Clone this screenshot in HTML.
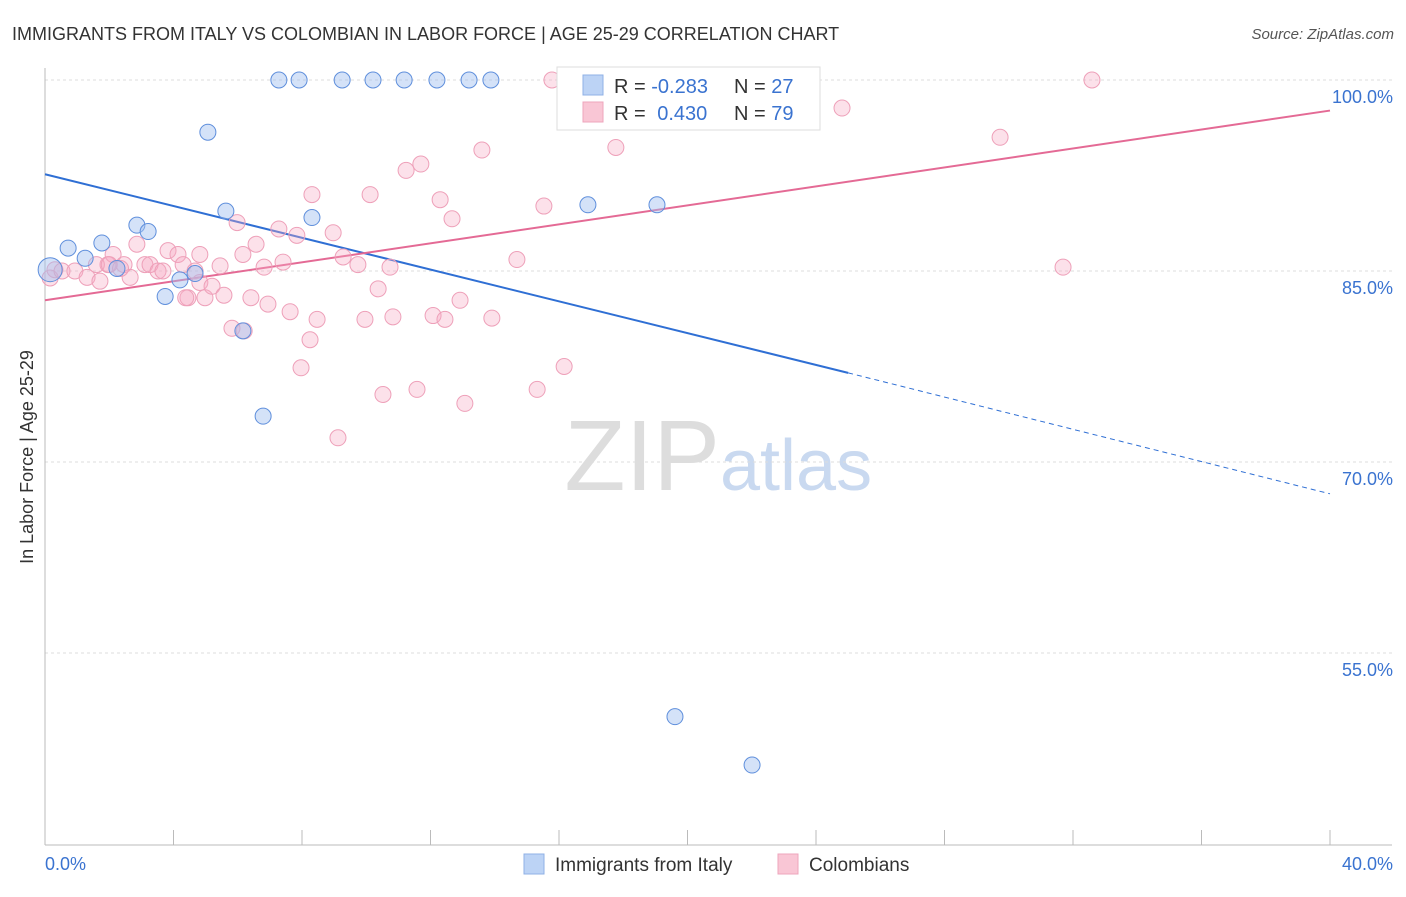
<!DOCTYPE html>
<html><head><meta charset="utf-8">
<style>
body{margin:0;background:#fff;font-family:"Liberation Sans",sans-serif;}
svg text{font-family:"Liberation Sans",sans-serif;}
</style></head>
<body>
<svg id="chart" width="1406" height="892" xmlns="http://www.w3.org/2000/svg">
<text x="12" y="40" font-size="18" fill="#333">IMMIGRANTS FROM ITALY VS COLOMBIAN IN LABOR FORCE | AGE 25-29 CORRELATION CHART</text>
<text x="1394" y="39" font-size="15" fill="#555" text-anchor="end" font-style="italic">Source: ZipAtlas.com</text>
<text x="720" y="490" font-size="100" fill="#ddd" text-anchor="end" font-family="Liberation Serif">ZIP</text>
<text x="720" y="490" font-size="72" fill="#c9d9f0">atlas</text>
<text transform="translate(33,457) rotate(-90)" font-size="18" fill="#333" text-anchor="middle">In Labor Force | Age 25-29</text>
<g id="grid"></g><g id="trend"></g><g id="pts"></g>
<g>
<rect x="557" y="67" width="263" height="63" fill="#fff" stroke="#ddd"/>
<rect x="583" y="75" width="20" height="20" fill="#bcd3f5" stroke="#8fb0e6"/>
<rect x="583" y="102" width="20" height="20" fill="#f9c6d5" stroke="#eea5bc"/>
<text x="614" y="93" font-size="20" fill="#333">R = <tspan fill="#3a73d0">-0.283</tspan></text>
<text x="734" y="93" font-size="20" fill="#333">N = <tspan fill="#3a73d0">27</tspan></text>
<text x="614" y="120" font-size="20" fill="#333">R = <tspan fill="#3a73d0" dx="6">0.430</tspan></text>
<text x="734" y="120" font-size="20" fill="#333">N = <tspan fill="#3a73d0">79</tspan></text>
</g>
<g>
<rect x="524" y="854" width="20" height="20" fill="#bcd3f5" stroke="#8fb0e6"/>
<text x="555" y="871" font-size="19" fill="#333">Immigrants from Italy</text>
<rect x="778" y="854" width="20" height="20" fill="#f9c6d5" stroke="#eea5bc"/>
<text x="809" y="871" font-size="19" fill="#333">Colombians</text>
</g>
</svg>
<script>
const yTicks=[100,85,70,55];
const yTickLabels=["100.0%","85.0%","70.0%","55.0%"];
const xLabels=["0.0%","40.0%"];
const italyX=[0.16,0.72,1.25,1.77,2.24,2.86,3.21,3.74,4.20,4.67,5.07,5.63,6.16,6.79,7.28,7.91,8.31,9.25,10.21,11.18,12.20,13.20,13.88,16.90,19.05,19.61,22.01];
const italyY=[85.1,86.8,86.0,87.2,85.2,88.6,88.1,83.0,84.3,84.8,95.9,89.7,80.3,73.6,100,100,89.2,100,100,100,100,100,100,90.2,90.2,50.0,46.2];
const colX=[0.16,0.31,0.53,0.93,1.31,1.71,1.96,2.12,2.46,2.65,2.86,3.11,3.27,3.52,3.67,3.83,4.14,4.30,4.45,4.67,4.82,4.98,5.20,5.45,5.57,5.82,5.98,6.16,6.41,6.57,6.82,6.94,7.28,7.41,7.63,7.84,7.97,8.25,8.31,8.47,8.97,9.28,9.12,9.74,9.96,10.12,10.37,10.52,10.74,10.83,11.24,11.58,11.70,12.08,12.30,12.45,12.67,12.92,13.07,13.60,13.91,14.69,15.32,15.53,15.78,16.16,17.77,22.26,22.66,24.81,29.73,31.69,32.59,1.6,2.0,2.35,4.38,4.82,6.2];
const colY=[84.45,85.1,85.0,85.0,84.5,84.2,85.5,86.3,85.5,84.5,87.1,85.5,85.5,85.0,85.0,86.6,86.3,85.5,82.9,85.0,84.1,82.9,83.8,85.4,83.1,80.5,88.8,86.3,82.9,87.1,85.3,82.4,88.3,85.7,81.8,87.8,77.4,79.6,91.0,81.2,88.0,86.1,71.9,85.5,81.2,91.0,83.6,75.3,85.3,81.4,92.9,75.7,93.4,81.5,90.6,81.2,89.1,82.7,74.6,94.5,81.3,85.9,75.7,90.1,100,77.5,94.7,100,100,97.8,95.5,85.3,100,85.5,85.5,85.2,82.9,86.3,80.3];
const italyTrend=[[0,92.6],[25,77.0],[40,67.5]];
const colTrend=[[0,82.7],[40,97.6]];
const X=v=>45+v*32.125, Y=v=>80+(100-v)*12.733;
const NS="http://www.w3.org/2000/svg";
function mk(t,a,p){const e=document.createElementNS(NS,t);for(const k in a)e.setAttribute(k,a[k]);p.appendChild(e);return e;}
const g=document.getElementById('grid');
yTicks.forEach((t,i)=>{
 const l=mk('line',{x1:45,x2:1392,y1:Y(t),y2:Y(t),stroke:'#ddd','stroke-dasharray':'3,3'},g);
 
 
 const tx=mk('text',{x:1393,y:Y(t)+23,'font-size':18,fill:'#3a73d0','text-anchor':'end'},g);tx.textContent=yTickLabels[i];
 
 
});
mk('line',{x1:45,x2:45,y1:68,y2:845,stroke:'#bbb'},g);
mk('line',{x1:45,x2:1392,y1:845,y2:845,stroke:'#bbb'},g);
for(let i=1;i<=10;i++){mk('line',{x1:X(i*4),x2:X(i*4),y1:830,y2:845,stroke:'#bbb'},g);}
[[0,45,'start'],[40,1393,'end']].forEach((d,i)=>{const t=mk('text',{x:d[1],y:870,'font-size':18,fill:'#3a73d0','text-anchor':d[2]},g);t.textContent=xLabels[i];
 
 });
const tr=document.getElementById('trend');
let b1=mk('line',{x1:X(italyTrend[0][0]),y1:Y(italyTrend[0][1]),x2:X(italyTrend[1][0]),y2:Y(italyTrend[1][1]),stroke:'#2f6fd4','stroke-width':2},tr);


let b2=mk('line',{x1:X(italyTrend[1][0]),y1:Y(italyTrend[1][1]),x2:X(italyTrend[2][0]),y2:Y(italyTrend[2][1]),stroke:'#2f6fd4','stroke-width':1,'stroke-dasharray':'5,4'},tr);


let p1=mk('line',{x1:X(colTrend[0][0]),y1:Y(colTrend[0][1]),x2:X(colTrend[1][0]),y2:Y(colTrend[1][1]),stroke:'#e46a95','stroke-width':2},tr);


const pg=document.getElementById('pts');
colX.forEach((x,i)=>{const c=mk('circle',{cx:X(x),cy:Y(colY[i]),r:8,fill:'rgba(246,170,195,0.35)',stroke:'#eea0b9','stroke-width':1},pg);
 
 });
italyX.forEach((x,i)=>{const c=mk('circle',{cx:X(x),cy:Y(italyY[i]),r:i==0?12:8,fill:'rgba(160,190,240,0.45)',stroke:'#5f8fdc','stroke-width':1},pg);
 
 });
</script>
</body></html>
